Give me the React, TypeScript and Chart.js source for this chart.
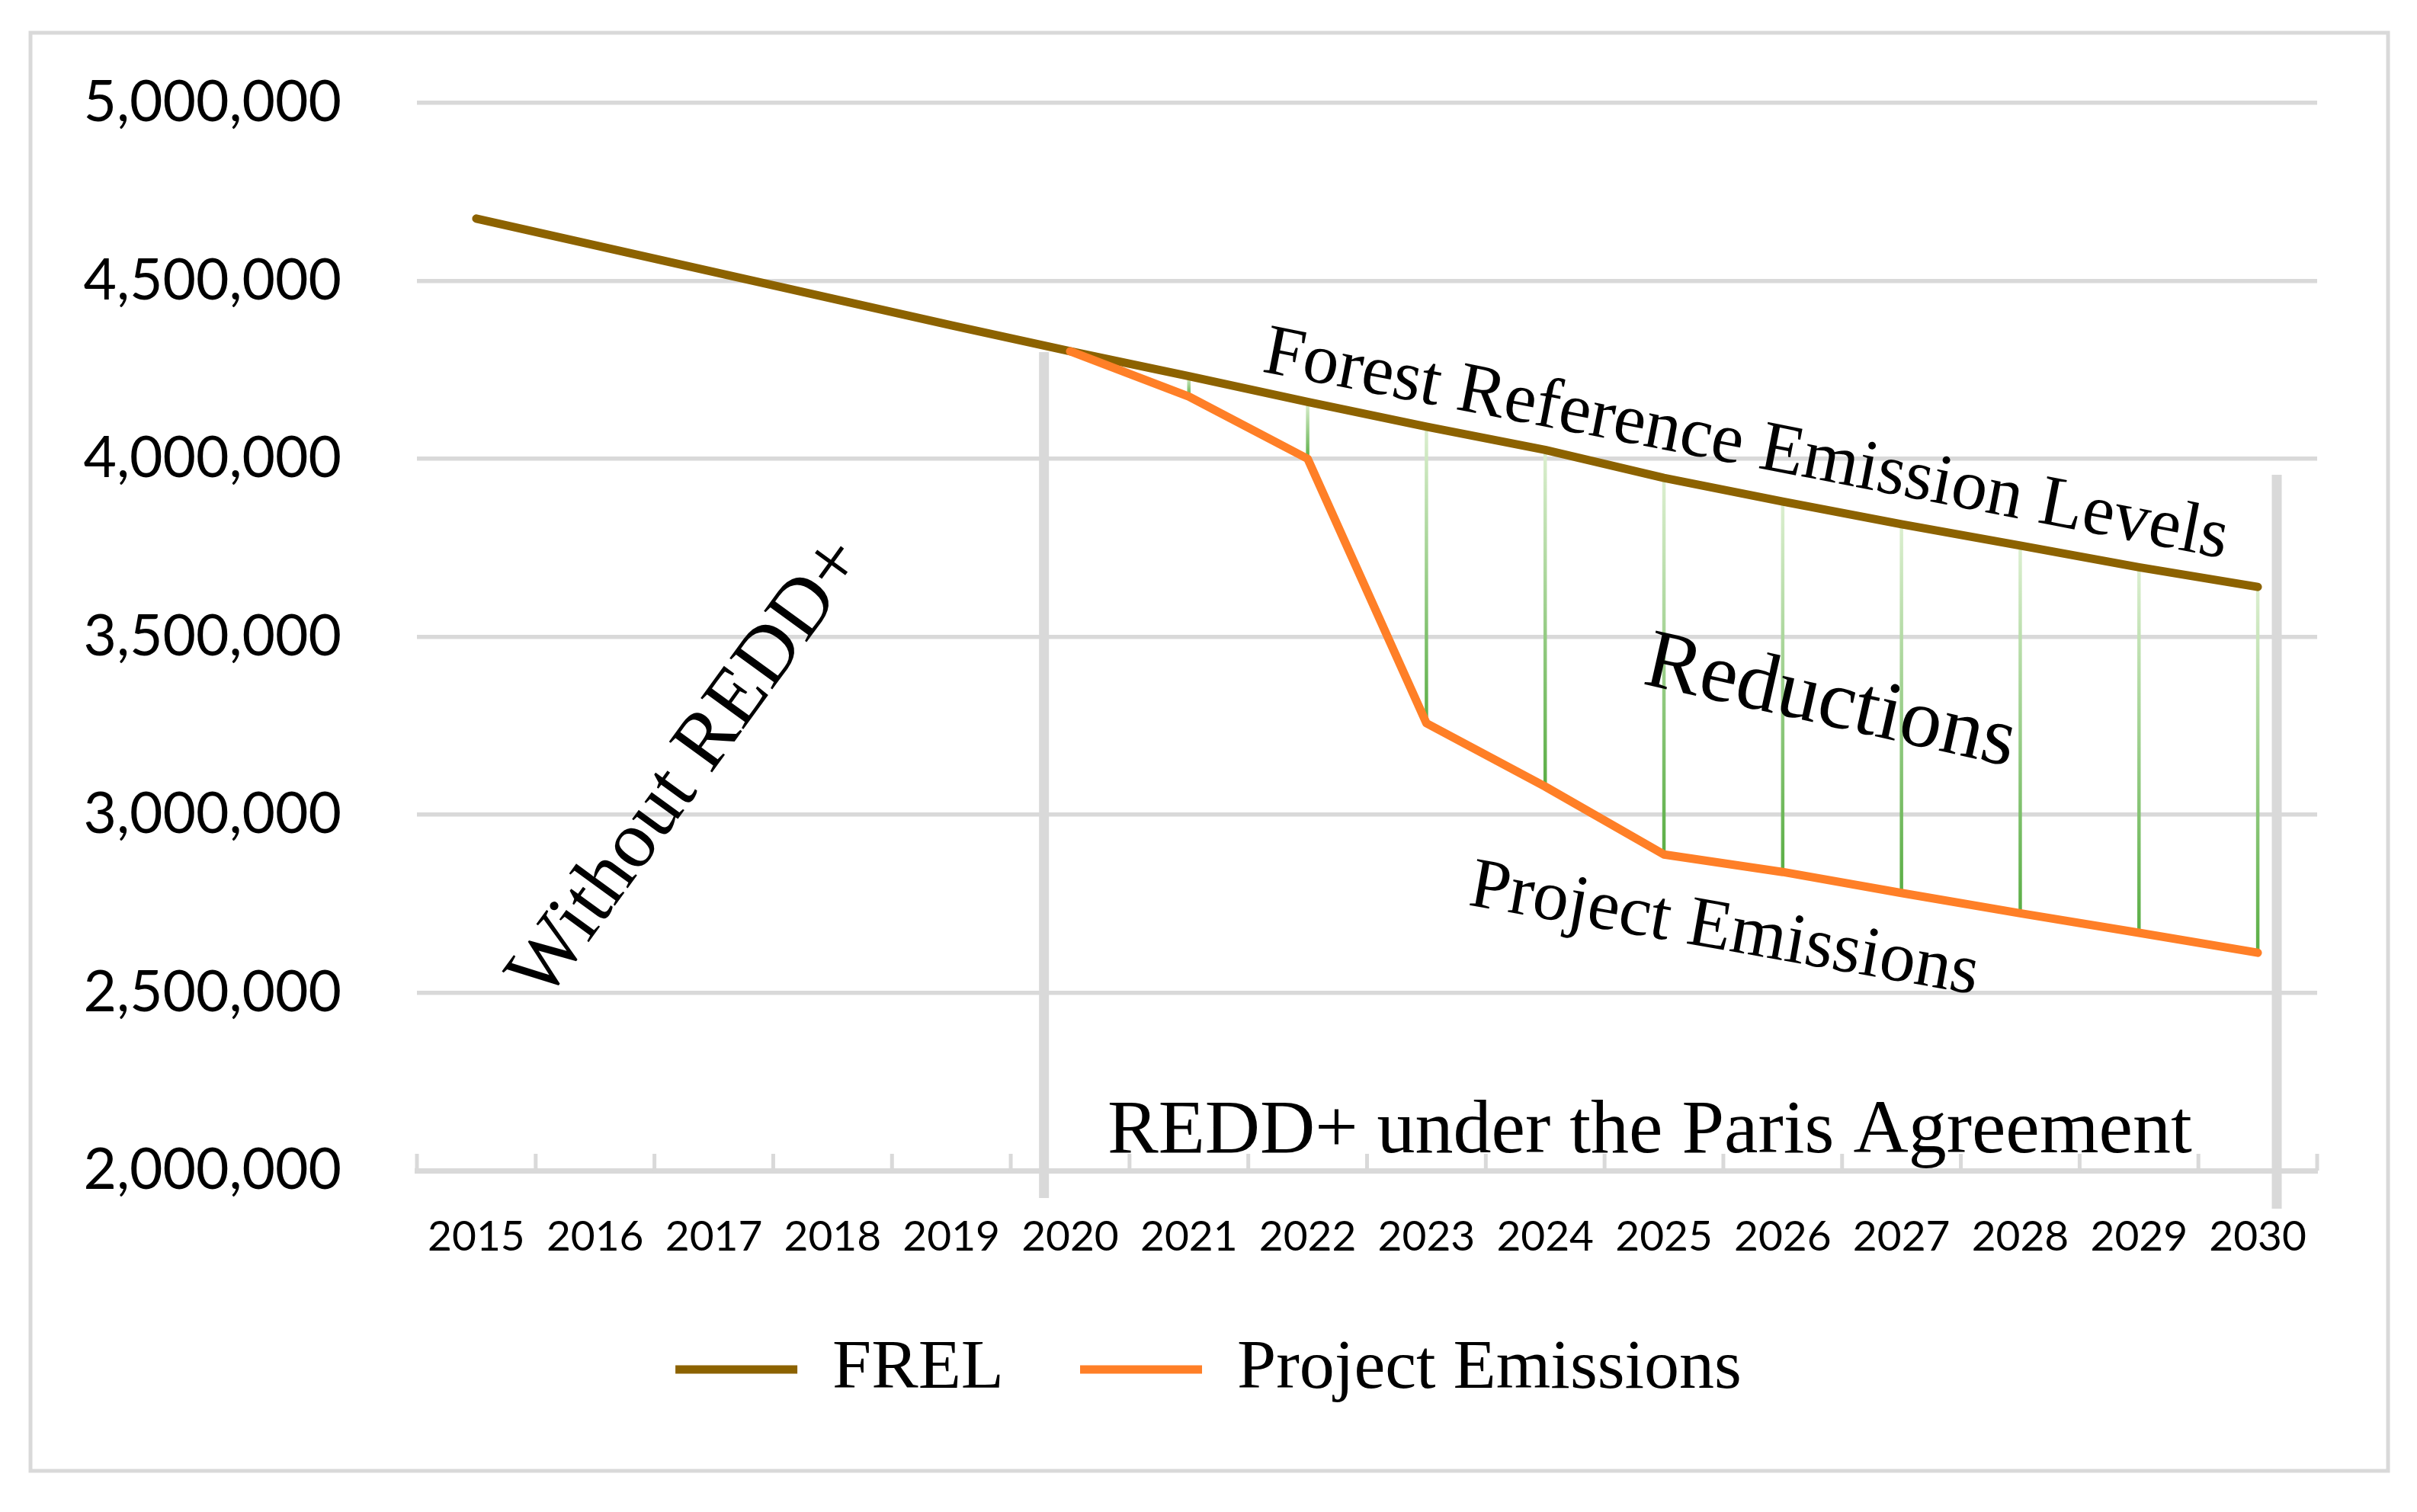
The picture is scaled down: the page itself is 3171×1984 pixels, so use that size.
import React, { useEffect, useRef } from 'react';
import { Chart, registerables } from 'chart.js';

Chart.register(...registerables);

const years = ['2015', '2016', '2017', '2018', '2019', '2020', '2021', '2022', '2023', '2024', '2025', '2026', '2027', '2028', '2029', '2030'];
const frelValues = [4675000, 4600000, 4525000, 4450000, 4375000, 4302000, 4232000, 4160000, 4090000, 4025000, 3946000, 3880000, 3816000, 3756000, 3695000, 3640000];
const projectValues = [null, null, null, null, null, 4302000, 4175000, 4000000, 3257000, 3079000, 2888000, 2839000, 2780000, 2723000, 2668000, 2612000];
const yMin = 2000000;
const yMax = 5000000;
const yStep = 500000;

// annotation texts (anchored in data coordinates: category index, value)
const annotations = [
  { text: 'Forest Reference Emission Levels', x: 10.66, y: 3983000, angle: 11, size: 94 },
  { text: 'Reductions', x: 11.36, y: 3252000, angle: 12.7, size: 110 },
  { text: 'Project Emissions', x: 10.48, y: 2621000, angle: 10, size: 94 },
  { text: 'Without REDD+', x: 1.93, y: 3094000, angle: -54, size: 106 },
  { text: 'REDD+ under the Paris Agreement', x: 9.88, y: 2052000, angle: 0, size: 100 },
];

// gray vertical separators (x as category index, top as value, extension below axis in px)
const separators = [
  { x: 4.78, top: 4300000, below: 36 },
  { x: 15.16, top: 3955000, below: 50 },
];

const GRID = '#d9d9d9';
const SERIF = '"Liberation Serif", "Times New Roman", serif';
const SANS = 'Lato, "Open Sans", sans-serif';

const decorPlugin = {
  id: 'decor',
  beforeDraw(chart: any) {
    const ctx = chart.ctx;
    ctx.save();
    ctx.fillStyle = '#ffffff';
    ctx.fillRect(0, 0, chart.width, chart.height);
    ctx.strokeStyle = GRID;
    ctx.lineWidth = 5;
    ctx.strokeRect(40, 43, chart.width - 78, chart.height - 97);
    ctx.restore();
  },
  beforeDatasetsDraw(chart: any) {
    const { ctx, chartArea } = chart;
    const x = chart.scales.x;
    const y = chart.scales.y;
    ctx.save();
    // upward tick marks on category boundaries
    ctx.strokeStyle = GRID;
    ctx.lineWidth = 5;
    for (let i = 0; i <= years.length; i++) {
      const px = x.getPixelForValue(i - 0.5);
      ctx.beginPath();
      ctx.moveTo(px, chartArea.bottom);
      ctx.lineTo(px, chartArea.bottom - 22);
      ctx.stroke();
    }
    // separators
    ctx.lineWidth = 13;
    for (const s of separators) {
      const px = x.getPixelForValue(s.x);
      ctx.beginPath();
      ctx.moveTo(px, y.getPixelForValue(s.top));
      ctx.lineTo(px, chartArea.bottom + s.below);
      ctx.stroke();
    }
    // reduction drop lines
    ctx.lineWidth = 4.5;
    for (let i = 0; i < years.length; i++) {
      const a = frelValues[i];
      const b = projectValues[i];
      if (a == null || b == null || a === b) continue;
      const px = x.getPixelForValue(i);
      const y1 = y.getPixelForValue(a);
      const y2 = y.getPixelForValue(b);
      const g = ctx.createLinearGradient(0, y1, 0, y2);
      g.addColorStop(0, '#dcefd0');
      g.addColorStop(1, '#5aae45');
      ctx.strokeStyle = g;
      ctx.beginPath();
      ctx.moveTo(px, y1);
      ctx.lineTo(px, y2);
      ctx.stroke();
    }
    ctx.restore();
  },
  afterDatasetsDraw(chart: any) {
    const { ctx } = chart;
    const x = chart.scales.x;
    const y = chart.scales.y;
    ctx.save();
    ctx.fillStyle = '#000000';
    ctx.textAlign = 'center';
    ctx.textBaseline = 'alphabetic';
    for (const a of annotations) {
      ctx.save();
      ctx.translate(x.getPixelForValue(a.x), y.getPixelForValue(a.y));
      ctx.rotate((a.angle * Math.PI) / 180);
      ctx.font = `${a.size}px ${SERIF}`;
      ctx.fillText(a.text, 0, 0);
      ctx.restore();
    }
    ctx.restore();
  },
};

export default function App() {
  const ref = useRef<HTMLCanvasElement | null>(null);

  useEffect(() => {
    if (!ref.current) return;
    const chart = new Chart(ref.current, {
      type: 'line',
      data: {
        labels: years,
        datasets: [
          {
            label: 'FREL',
            data: frelValues,
            borderColor: '#8c6200',
            backgroundColor: '#8c6200',
            borderWidth: 11,
            pointRadius: 0,
            borderCapStyle: 'round',
            borderJoinStyle: 'round',
            tension: 0,
            order: 2,
          },
          {
            label: 'Project Emissions',
            data: projectValues,
            borderColor: '#ff7f27',
            backgroundColor: '#ff7f27',
            borderWidth: 11,
            pointRadius: 0,
            borderCapStyle: 'round',
            borderJoinStyle: 'round',
            tension: 0,
            order: 1,
          },
        ],
      },
      options: {
        animation: false,
        responsive: false,
        maintainAspectRatio: false,
        devicePixelRatio: 1,
        layout: { padding: { left: 0, right: 0, top: 135, bottom: 131 } },
        plugins: {
          tooltip: { enabled: false },
          legend: {
            position: 'bottom',
            labels: {
              usePointStyle: true,
              pointStyle: 'line',
              pointStyleWidth: 160,
              padding: 100,
              color: '#000000',
              font: { family: SERIF, size: 92 },
              sort: (a: any, b: any) => a.datasetIndex - b.datasetIndex,
            },
          },
        },
        scales: {
          x: {
            type: 'category',
            offset: true,
            grid: { display: false, drawTicks: false },
            border: { display: true, color: GRID, width: 7 },
            ticks: {
              color: '#000000',
              font: { family: SANS, size: 55 },
              padding: 54,
              maxRotation: 0,
              autoSkip: false,
            },
            afterFit: (s: any) => {
              s.height = 115;
            },
          },
          y: {
            min: yMin,
            max: yMax,
            grid: {
              color: GRID,
              lineWidth: 5.5,
              drawTicks: true,
              tickLength: 99,
              tickColor: 'rgba(0,0,0,0)',
            },
            border: { display: false },
            ticks: {
              stepSize: yStep,
              color: '#000000',
              font: { family: SANS, size: 75 },
              padding: 0,
              callback: (v: any) => Number(v).toLocaleString('en-US'),
            },
            afterFit: (s: any) => {
              s.width = 547;
            },
          },
          yRight: {
            position: 'right',
            display: true,
            grid: { display: false, drawTicks: false },
            border: { display: false },
            ticks: { display: false },
            afterFit: (s: any) => {
              s.width = 131;
            },
          },
        },
      },
      plugins: [decorPlugin],
    } as any);
    return () => chart.destroy();
  }, []);

  return (
    <div style={{ position: 'absolute', left: 0, top: 0, width: 3171, height: 1984, background: '#ffffff' }}>
      <canvas ref={ref} width={3171} height={1984} style={{ display: 'block', width: 3171, height: 1984 }} />
    </div>
  );
}
